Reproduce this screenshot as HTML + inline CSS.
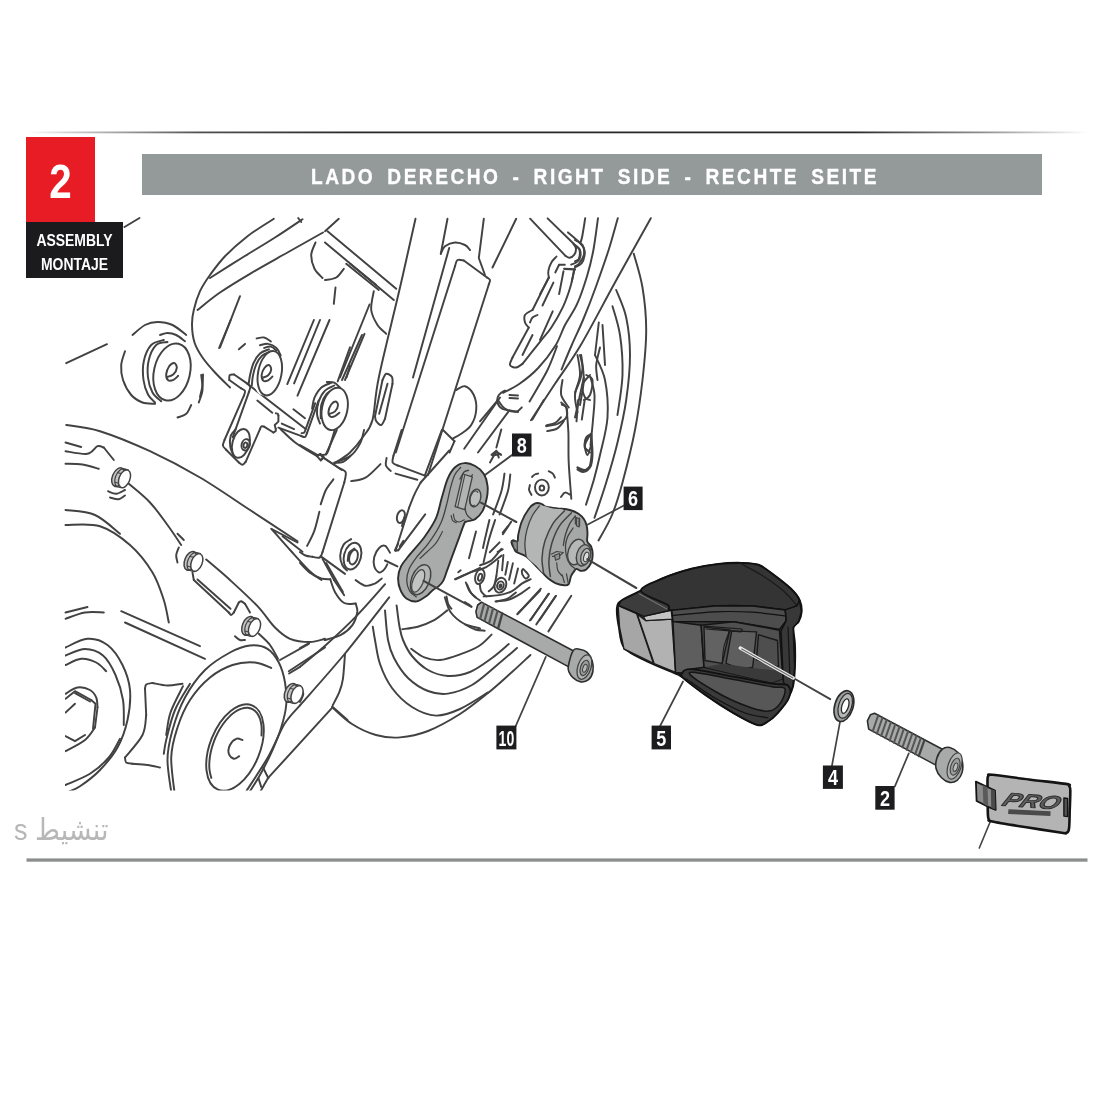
<!DOCTYPE html>
<html lang="es">
<head>
<meta charset="utf-8">
<title>Assembly 2 - Lado derecho</title>
<style>
html,body{margin:0;padding:0;background:#fff;}
body{width:1100px;height:1100px;position:relative;overflow:hidden;font-family:"Liberation Sans","DejaVu Sans",sans-serif;}
.red{position:absolute;left:26px;top:137px;width:69px;height:85px;background:#e81c24;color:#fff;font-weight:bold;font-size:47.5px;line-height:85px;text-align:center;}
.red span{display:block;transform:scaleX(.85);position:relative;top:2px;}
.blk{position:absolute;left:26px;top:222px;width:97px;height:56px;background:#1b1b1d;color:#fff;font-weight:bold;font-size:17px;line-height:24px;text-align:center;padding-top:7px;box-sizing:border-box;}
.blk span{display:block;transform:scaleX(.82);}
.bar{position:absolute;left:142px;top:154px;width:900px;height:41px;background:#949999;color:#fff;font-weight:bold;font-size:22.5px;letter-spacing:2.9px;line-height:46px;white-space:nowrap;}
.bar span{position:absolute;left:169px;top:0;transform:scaleX(.851);transform-origin:0 50%;word-spacing:5.2px;-webkit-text-stroke:.35px #fff;}
.ar{position:absolute;left:14px;top:812px;transform:scaleX(.9);transform-origin:0 0;font-family:"Liberation Sans","DejaVu Sans",sans-serif;font-size:30px;color:#b7b7b7;white-space:nowrap;direction:ltr;}
svg{position:absolute;left:0;top:0;filter:blur(.5px);}
svg text{font-family:"Liberation Sans",sans-serif;font-weight:bold;}
</style>
</head>
<body>
<svg width="1100" height="1100" viewBox="0 0 1100 1100">
<defs><linearGradient id="tl" x1="0" x2="1" y1="0" y2="0"><stop offset="0" stop-color="#444" stop-opacity="0"/><stop offset=".04" stop-color="#444" stop-opacity=".25"/><stop offset=".16" stop-color="#333" stop-opacity=".85"/><stop offset=".3" stop-color="#2a2a2a" stop-opacity="1"/><stop offset=".78" stop-color="#2a2a2a" stop-opacity="1"/><stop offset=".9" stop-color="#444" stop-opacity=".6"/><stop offset="1" stop-color="#444" stop-opacity="0"/></linearGradient><clipPath id="clip"><rect x="65" y="218" width="1030" height="572.5"/></clipPath></defs>
<rect x="27" y="131.5" width="1061" height="1.8" fill="url(#tl)"/>
<rect x="26.5" y="858.4" width="1061" height="3.3" fill="#8c8e8e"/>
<g fill="none" stroke="#424242" stroke-width="1.95" stroke-linecap="round" stroke-linejoin="round">
<path d="M124.5 227L139.5 218"/>
<path d="M66.2 363.2L107 344.2"/>
<path d="M273.8 218.8C269.4 221.7 255.6 230 247.5 236.2C239.4 242.5 231.2 249.8 225 256.2C218.8 262.7 214.2 269.2 210 275C205.8 280.8 202.7 285.4 200 291.2C197.3 297.1 195.1 304.4 193.8 310C192.4 315.6 191.9 319.6 192 325C192.1 330.4 192.8 337.1 194.5 342.5C196.2 347.9 199.1 352.5 202.5 357.5C205.9 362.5 210.4 367.5 215 372.5C219.6 377.5 227.5 385 230 387.5"/>
<path d="M302.5 219.2C297.9 222.3 285 231.1 275 237.5C265 243.9 253.3 250.8 242.5 257.5C231.7 264.2 215.4 274.6 210 278"/>
<path d="M298.2 218L301.2 222"/>
<path d="M323 232.5C317.1 235.8 299.7 245.6 287.5 252.5C275.3 259.4 261.2 267.1 250 273.8C238.8 280.4 228.8 286.5 220 292.5C211.2 298.5 201.2 307.1 197.5 310"/>
<path d="M240 296.2L220 347.5"/>
<path d="M315.5 242.5C314.8 244.6 311.4 250.6 311.2 255C311.1 259.4 312.6 264.9 314.5 268.8C316.4 272.6 321.2 276.5 322.5 278"/>
<ellipse cx="172" cy="372" rx="18" ry="29" transform="rotate(13 172 372)"/>
<path d="M167.5 342C165.6 342.5 159.4 342 156.2 345C153.1 348 150.1 354.6 148.8 360C147.4 365.4 147.4 372.1 148 377.5C148.6 382.9 150.3 388.5 152.5 392.5C154.7 396.5 159.8 399.8 161.2 401.2"/>
<path d="M163.8 340C161.7 340.8 154.6 341.5 151.2 345C147.9 348.5 145 355.4 143.8 361.2C142.5 367.1 142.8 374.5 143.5 380C144.2 385.5 146.1 390.8 148 394.5C149.9 398.2 153.8 401.2 155 402.5"/>
<path d="M160 335C161.2 334.7 164.8 333 167.5 333C170.2 333 173.3 333.6 176.2 335C179.2 336.4 183.5 340.2 185 341.2"/>
<path d="M132.5 335C134.6 333.3 140.8 327.2 145 325C149.2 322.8 152.9 322 157.5 322C162.1 322 167.7 322.8 172.5 325C177.3 327.2 184 333.3 186.2 335"/>
<path d="M125 351.2C124.4 353.5 121.6 360.2 121.2 365C120.9 369.8 121.3 375 123 380C124.7 385 128 391.2 131.2 395C134.5 398.8 138.5 401 142.5 402.5C146.5 404 152.9 403.5 155 403.8"/>
<path d="M201.2 375C201.5 377.5 202.9 385.4 202.5 390C202.1 394.6 199.4 400.4 198.8 402.5"/>
<path d="M191.2 405C190.4 406.5 188.5 411.7 186.2 413.8C184 415.8 179 416.9 177.5 417.5"/>
<path d="M166.8 377.2C167.9 376.8 171.8 375.8 173.5 374.2C175.2 372.7 176.6 369.6 176.8 367.8C176.9 365.9 175.5 363.2 174.2 363C173 362.8 170.6 364.4 169.2 366.2C167.9 368.1 166.4 371.9 166.2 374.2C166.1 376.6 167 379.3 168.2 380.2C169.5 381.2 171.8 380.5 173.5 379.8C175.2 379 177.5 376.4 178.2 375.8"/>
<path d="M230.7 320L219.1 348"/>
<path d="M203 374.5C202.9 376.4 203 381.7 202.5 385.5C202 389.2 200.4 395.1 200 397"/>
<path d="M313.9 320L287.3 384.1"/>
<path d="M320 320L294.1 383.4"/>
<path d="M329.5 320L297.5 395.7"/>
<path d="M350 347.3L337.7 381.4"/>
<path d="M350 365.7L346.6 377.3"/>
<path d="M229.3 380C229.4 379.2 228.9 376.1 229.7 375.2C230.5 374.3 233.4 374.7 234.1 374.5"/>
<path d="M234.1 374.5L247 383.4"/>
<path d="M229.3 380L240.9 388.2"/>
<path d="M240.9 388.2C241.6 388.6 244.5 389.7 245 390.9C245.5 392.2 244.1 394.9 243.9 395.7"/>
<path d="M243.9 395.7L224.5 440"/>
<path d="M224.5 440C224.3 440.9 222.7 443.9 222.9 445.5C223.1 447 225.4 448.9 225.9 449.5"/>
<path d="M225.9 449.5L238.9 462.5"/>
<path d="M238.9 462.5C239.5 462.9 241.4 464.9 242.5 464.8C243.7 464.7 245.2 462.3 245.7 461.8"/>
<path d="M245.7 461.8L260 429.1"/>
<path d="M260 429.1C260.2 428.6 260.7 426.8 261.4 426.4C262 426 263.6 426.6 264.1 426.6"/>
<path d="M264.1 426.6L273.4 432.5"/>
<path d="M273.4 432.5C273.8 432.3 275.3 431.8 275.7 431.1C276.1 430.5 275.7 429.2 275.7 428.8"/>
<path d="M275.7 428.8L274.7 425L278.4 421.6L278.4 415.5"/>
<path d="M278.4 415.5C278.3 415.2 278.2 414.2 277.7 413.8C277.3 413.5 276.1 413.4 275.8 413.3"/>
<path d="M247 383.4C247.6 384 249.9 385.3 250.2 386.8C250.5 388.3 249 391.4 248.8 392.3"/>
<path d="M248.8 392.3L232.7 437.3"/>
<path d="M247.7 384.1L305 428.4"/>
<path d="M257.3 400.5L272.3 412.7"/>
<path d="M293.4 409.3L305 418.2"/>
<path d="M281.8 423.6L294.1 429.1"/>
<path d="M278.4 427.7L300.9 435.9"/>
<path d="M300.9 435.9C301.6 436.1 304 437.5 305 437C306 436.5 306.7 433.8 307 433.2"/>
<path d="M307 433.2L318.6 400.5"/>
<path d="M301.6 433.2C302 433.1 303.6 433.2 304.3 432.5C305 431.8 305.5 429.7 305.7 429.1"/>
<path d="M305.7 429.1L315.2 403.2"/>
<ellipse cx="240.9" cy="443.4" rx="8.5" ry="14.7" transform="rotate(15 240.9 443.4)"/>
<ellipse cx="245.7" cy="444.8" rx="4.1" ry="5.7" transform="rotate(15 245.7 444.8)"/>
<ellipse cx="245.4" cy="445.2" rx="1.9" ry="2.7" transform="rotate(15 245.4 445.2)"/>
<path d="M235.7 429.1C234.9 430.2 231.6 433 230.7 435.9C229.8 438.9 229.7 443.4 230.3 446.8C230.8 450.2 233.5 454.8 234.1 456.4"/>
<path d="M280.5 429.1C283 431.4 289.3 438.2 295.5 442.7C301.6 447.3 313.6 454.1 317.3 456.4"/>
<path d="M317.3 456.4L320 454.3L323.4 457.7L320.7 460.5L317.3 456.4"/>
<path d="M323.4 457.7L341.8 470"/>
<path d="M335 429.1C334.3 431.4 332.3 438.6 330.9 442.7C329.5 446.8 328.5 451.6 326.8 453.6C325.1 455.7 321.7 454.8 320.7 455"/>
<path d="M350 456.4C348.9 457.3 345.7 460.7 343.2 461.8C340.7 462.9 336.4 462.7 335 462.9"/>
<ellipse fill="#fff" stroke="none" cx="266.1" cy="373.9" rx="11.5" ry="21.8" transform="rotate(11 266.1 373.9)"/>
<path d="M268.9 349.3C267.4 350 262.5 351.3 260 353.4C257.5 355.6 255.5 358.8 253.9 362.3C252.2 365.8 251 371 250.2 374.5C249.3 378.1 249 381.9 248.8 383.4"/>
<path d="M270.2 351.6C268.9 352.3 264.4 353.6 262 355.7C259.7 357.8 257.7 361 256.2 364.3C254.7 367.7 253.6 372.4 252.9 375.9C252.2 379.4 252 383.9 251.8 385.5"/>
<path d="M260 345.2C261.4 345 265.5 343.4 268.2 343.9C270.9 344.3 274.3 346 276.4 348C278.5 349.9 280 354.2 280.7 355.5"/>
<path d="M256.6 338.4C257.8 338.3 261.7 336.9 264.1 337.5C266.5 338 269.8 340.9 270.9 341.5"/>
<path d="M264.1 348C265.2 347.7 268.9 346.1 270.9 346.6C273 347 275.5 350 276.4 350.7"/>
<path d="M238.9 349.3L245 343.9"/>
<ellipse fill="#fff" cx="269.8" cy="373.2" rx="11.7" ry="22.5" transform="rotate(11 269.8 373.2)"/>
<path d="M262 378C263.1 377.5 266.7 376.7 268.2 375.2C269.7 373.8 271.1 371.1 271.2 369.4C271.3 367.7 270 365.2 268.9 365C267.7 364.8 265.6 366.3 264.4 368C263.2 369.7 261.8 373.1 261.6 375.2C261.5 377.3 262.3 379.8 263.4 380.7C264.5 381.5 266.7 381 268.2 380.3C269.7 379.6 271.8 377.2 272.5 376.6"/>
<ellipse fill="#fff" stroke="none" cx="330.2" cy="410" rx="12.3" ry="20.5" transform="rotate(12 330.2 410)"/>
<path d="M331.6 382.7C329.9 383.5 324.2 385 321.4 387.5C318.5 390 316.1 394.2 314.5 397.7C313 401.3 312.5 406.8 312.1 408.6"/>
<path d="M334.3 385.5C332.7 386.4 327.4 388.2 324.8 390.9C322.2 393.6 319.9 398 318.6 401.8C317.3 405.7 316.8 410.5 317 414.1C317.2 417.7 319.5 422 320 423.6"/>
<path d="M326.8 382C328.1 382.2 332 381.7 334.3 382.7C336.6 383.8 339.4 387.3 340.5 388.2"/>
<path d="M336.4 388.2C334.8 389.1 329.3 390.9 326.8 393.6C324.3 396.4 322.4 400.5 321.4 404.5C320.3 408.6 320.8 415.9 320.7 418.2"/>
<ellipse fill="#fff" cx="334.7" cy="408.9" rx="12.7" ry="21.5" transform="rotate(12 334.7 408.9)"/>
<path d="M328.9 414.1C329.9 413.6 333.5 412.8 335 411.4C336.5 409.9 337.9 406.9 338 405.2C338.1 403.6 336.8 401.7 335.7 401.5C334.5 401.4 332.4 402.9 331.2 404.5C330 406.2 328.6 409.6 328.5 411.6C328.3 413.6 329.1 415.8 330.2 416.5C331.3 417.3 333.5 416.8 335 416.1C336.5 415.5 338.6 413.3 339.4 412.7"/>
<path d="M338.8 218.8L325 231.2"/>
<path d="M327.5 231.2L396.2 288.8"/>
<path d="M325 242.5L393.8 300"/>
<path d="M346.2 263.8L378.8 290"/>
<path d="M350 263.8L376.2 285"/>
<path d="M325 280C326.9 279.6 333.1 279.4 336.2 277.5C339.4 275.6 342.5 270.2 343.8 268.8"/>
<path d="M335.5 287.5L333.8 303.8"/>
<path d="M373.8 291.2C373.3 294.4 370.6 304.4 371.2 310C371.9 315.6 375 321 377.5 325C380 329 384.8 332.3 386.2 333.8"/>
<path d="M369.5 304.5L340 377.5"/>
<path d="M364.5 333.8L345 380"/>
<path d="M362 335L342 380"/>
<path d="M415.5 218.8C412.9 230.2 406.1 261 400 287.5C393.9 314 383.3 355.4 378.8 377.5C374.2 399.6 375.2 410 372.5 420C369.8 430 366.2 432.1 362.5 437.5C358.8 442.9 354.6 448.2 350 452.5C345.4 456.8 337.5 461.2 335 463"/>
<path d="M382.5 380C383.1 379 384.7 374.2 386.2 373.8C387.8 373.2 391 375.3 392 377C393 378.7 392.4 382.6 392.5 383.8"/>
<path d="M392.5 383.8L385 418.8"/>
<path d="M385 418.8C384.4 419.8 382.7 424.6 381.2 425C379.8 425.4 377.3 422.7 376.2 421.2C375.2 419.8 375.2 417.1 375 416.2"/>
<path d="M375 416.2L382.5 380"/>
<path d="M387.5 383.8L379.2 413.8"/>
<path d="M447.5 218.8L440.8 253.8"/>
<path d="M440.8 253.8C441.5 252.5 442.6 248.1 445 246.2C447.4 244.4 451.7 242.7 455 242.5C458.3 242.3 462.5 243.8 465 245C467.5 246.2 469.2 249.2 470 250"/>
<path d="M449.2 248L413 377.5"/>
<path d="M455 266.2C455.4 265.2 456 261 457.5 260C459 259 462.7 260.4 463.8 260.5"/>
<path d="M463.8 260.5L487 277.5"/>
<path d="M487 277.5C487.5 277.9 489.7 278.8 490 280C490.3 281.2 489 283.8 488.8 284.5"/>
<path d="M488.8 284.5L428 475"/>
<path d="M455 266.2L395.8 452.5"/>
<path d="M443 430L454.5 441.2"/>
<path d="M454.5 441.2L449.5 452.5"/>
<path d="M483.8 218.8L478.8 258L485 275"/>
<path d="M516.2 218.8L492.5 267.5"/>
<path d="M456.2 390C457.7 389.4 462.1 385.4 465 386.2C467.9 387.1 471.9 391 473.8 395C475.6 399 476.7 405 476.2 410C475.8 415 473.8 421 471.2 425C468.8 429 464.4 431.5 461.2 433.8C458.1 436 454 437.9 452.5 438.8"/>
<path d="M548.8 277.5L532.5 310"/>
<path d="M532.5 310C531.2 310.8 526.2 312.9 525 315C523.8 317.1 524.4 320.4 525 322.5C525.6 324.6 528.1 326.7 528.8 327.5"/>
<path d="M528.8 327.5L512.5 357.5"/>
<path d="M512.5 357.5C512.1 358.8 509.4 363.3 510 365C510.6 366.7 514.2 367.7 516.2 367.5C518.3 367.3 521.5 364.4 522.5 363.8"/>
<path d="M530 322.5C530.4 321.7 531.2 318.8 532.5 317.5C533.8 316.2 536.7 315.4 537.5 315"/>
<path d="M532.5 335L522.5 355"/>
<path d="M505 390.5C504 391.2 500 393 498.8 395C497.5 397 496.9 400.2 497.5 402.5C498.1 404.8 499.1 407.2 502.5 408.8C505.9 410.3 515.4 411.5 518 412"/>
<path d="M509.5 395L518 395.5"/>
<path d="M509.5 398L518 398.5"/>
<path d="M500 397.5L464.2 448.8"/>
<path d="M508.8 411.2L478 452.5"/>
<path d="M512 455L485 475"/>
<path d="M490 462.5L496.2 451.2L501.2 455"/>
<path d="M492.5 455.5L500.5 454"/>
<path d="M577.5 355C577.9 358.3 580.4 368.3 580 375C579.6 381.7 575.4 388.8 575 395C574.6 401.2 577.1 409.6 577.5 412.5"/>
<path d="M581.2 355C581.7 359.2 584 371.7 583.8 380C583.5 388.3 580.6 400.8 580 405"/>
<path d="M590 375C588.8 376.7 583.3 381.2 582.5 385C581.7 388.8 583.8 395 585 397.5C586.2 400 589.2 399.6 590 400"/>
<path d="M600 347.5C599.4 350.4 596.7 359.6 596.2 365C595.8 370.4 597.3 377.5 597.5 380"/>
<path d="M561.2 402.5C562.1 403.3 565.4 405 566.2 407.5C567.1 410 567.7 414.8 566.2 417.5C564.8 420.2 560.8 422.3 557.5 423.8C554.2 425.2 548.1 425.8 546.2 426.2"/>
<path d="M562.5 380C562.3 382.5 560.2 390.4 561.2 395C562.3 399.6 567.5 405.4 568.8 407.5"/>
<path d="M590 435C589.2 436.7 585.4 441.7 585 445C584.6 448.3 586.5 455 587.5 455C588.5 455 590.6 446.7 591.2 445"/>
<path d="M577.5 467.5C578.8 467.9 582.7 470.4 585 470C587.3 469.6 590.2 465.8 591.2 465"/>
<path d="M585.2 218.2C584.8 221 583.2 231 582.5 235C581.8 239 581 240.8 580.8 242"/>
<path d="M574.2 269.2C573.6 272.1 572.4 280.2 570.5 286.5C568.6 292.8 566.2 300 563 306.8C559.8 313.5 555.3 321.4 551.5 327.2C547.7 333.1 544.8 335.7 540 341.8C535.2 347.8 525.4 360.1 522.5 363.8"/>
<path d="M598 218.2C597.2 223.5 595.3 239.8 593.5 249.5C591.7 259.2 589.8 267.1 587 276.2C584.2 285.4 580.7 296.1 577 304.2C573.3 312.4 568.6 318.1 565 325C561.4 331.9 560 338.3 555.5 345.5C551 352.7 544.3 361.6 538.2 368C532.2 374.4 525.1 379.9 519.2 384C513.4 388.1 505.9 391.3 503.2 392.8"/>
<path d="M557 346.2C555.3 350.4 551.6 361.8 547 371C542.4 380.2 532.4 396.4 529.5 401.5"/>
<path d="M617.8 218.2C616.2 223.5 612.4 238.1 608.8 249.5C605.1 260.9 600.2 274.8 596 286.5C591.8 298.2 587.3 309.8 583.2 319.5C579.2 329.2 575.4 336.7 571.8 345C568.1 353.3 563.2 365.4 561.5 369.5"/>
<path d="M650.8 218.2C644.8 229 626.7 261.4 615 282.5C603.3 303.6 590.8 328.1 580.8 345C570.8 361.9 563.3 371.2 555 383.8C546.7 396.3 535 414.2 531 420.2"/>
<path d="M633.8 253.8C635.2 259.4 640.4 274.8 642.5 287.5C644.6 300.2 646.2 314.6 646.2 330C646.2 345.4 644.4 363.3 642.5 380C640.6 396.7 638.3 412.9 635 430C631.7 447.1 626.3 468.3 622.5 482.5C618.7 496.7 616 505.3 612 515C608 524.7 600.8 536.2 598.5 540.5"/>
<path d="M616.2 290C617.9 294.6 624 306.7 626.2 317.5C628.5 328.3 630 341.2 630 355C630 368.8 628.3 385.4 626.2 400C624.2 414.6 620.8 428.8 617.5 442.5C614.2 456.2 610.1 470 606.2 482.5C602.4 495 596.5 511.9 594.5 517.8"/>
<path d="M612.5 306.2C613.8 311 618.3 323.5 620 335C621.7 346.5 622.9 361.7 622.5 375C622.1 388.3 618.3 408.3 617.5 415"/>
<path d="M575 240C576.2 240.8 581 242.5 582.5 245C584 247.5 584.4 251.9 583.8 255C583.1 258.1 580.2 261.9 578.8 263.8C577.3 265.6 575.6 265.8 575 266.2"/>
<path d="M575 245C575.8 245.8 578.9 247.7 579.5 250C580.1 252.3 579.5 256.9 578.8 258.8C578 260.6 575.6 260.8 575 261.2"/>
<path d="M598.8 322.5L595 355"/>
<path d="M602.5 325L605 365"/>
<path d="M595 355C596.7 359.2 602.9 369.6 605 380C607.1 390.4 608.3 405 607.5 417.5C606.7 430 602.3 444.6 600 455C597.7 465.4 596.1 471.7 593.8 480C591.4 488.3 587.3 500.6 586 504.8"/>
<path d="M580 355C580.4 357.1 582.5 363.3 582.5 367.5C582.5 371.7 581.2 375.8 580 380C578.8 384.2 575.8 390.4 575 392.5"/>
<path d="M586.2 375C587.3 375.8 591.9 376.7 592.5 380C593.1 383.3 591.5 391.7 590 395C588.5 398.3 584.8 399.2 583.8 400"/>
<path d="M583.8 377.5C583.1 380.4 581.5 388.3 580 395C578.5 401.7 575.8 413.8 575 417.5"/>
<path d="M591.2 433.8C590.4 434.4 587.3 435.2 586.2 437.5C585.2 439.8 584.4 445 585 447.5C585.6 450 589.2 451.7 590 452.5"/>
<path d="M591.2 433.8C591.5 437.3 592.7 449.4 592.5 455C592.3 460.6 591.7 464.9 590 467.5C588.3 470.1 584.6 470.5 582.5 470.5C580.4 470.5 578.3 468 577.5 467.5"/>
<path d="M590.5 377.5C591.2 380.4 594.1 387.9 594.5 395C594.9 402.1 593.7 411.7 593 420C592.3 428.3 590.9 440.8 590.5 445"/>
<path d="M66.2 425C71.9 426 86 426.9 100 431.2C114 435.6 133.3 443.5 150 451.2C166.7 459 183.3 467.7 200 477.5C216.7 487.3 233.8 499.4 250 510C266.2 520.6 289.6 536 297.5 541.2"/>
<path d="M65.5 442.5L81.2 447"/>
<path d="M65.5 451.2C69.2 451.7 82.2 454.6 87.5 453.8C92.8 452.9 94.8 447.3 97.5 446.2C100.2 445.2 102.7 447.3 103.8 447.5"/>
<path d="M103.8 447.5L113.8 460"/>
<path d="M65.5 463.8C68.3 463.9 77 463.7 82.5 464.5C88 465.3 96 468 98.8 468.8"/>
<path d="M108 491.2C109.4 491.7 113.4 494 116.2 493.8C119.1 493.5 123.5 490.6 125 490"/>
<path d="M110 497.5C111.5 497.8 116.2 499.6 118.8 499.2C121.2 498.9 124 496.1 125 495.5"/>
<path d="M128.8 483.8C132.3 486.9 143.5 495.6 150 502.5C156.5 509.4 162.3 517.9 167.5 525C172.7 532.1 179 541.7 181.2 545"/>
<path d="M177.5 533.8L183.8 540"/>
<path d="M178.8 547.5C178.3 548.8 176.5 552.5 176.2 555C176 557.5 177.3 561.2 177.5 562.5"/>
<path d="M206.2 559.5C210.2 562.9 221.5 572.2 230 580C238.5 587.8 250 598.3 257.5 606.2C265 614.2 269.6 622.1 275 627.5C280.4 632.9 284.2 636.3 290 638.8C295.8 641.2 304.2 642 310 642C315.8 642 322.5 639.3 325 638.8"/>
<path d="M192.5 572.5L193.8 580"/>
<path d="M193.8 580L228.8 612.5"/>
<path d="M197.5 579.5L230.5 608.8"/>
<path d="M228.8 612.5C229.2 612.9 230.4 615 231.2 615C232.1 615 233.3 612.9 233.8 612.5"/>
<path d="M233.8 612.5L238.8 602.5"/>
<path d="M238.8 602.5C239.2 602.3 240.2 601 241.2 601.2C242.3 601.5 244.4 603.3 245 603.8"/>
<path d="M245 603.8L250 612.5"/>
<path d="M235 636.2C235.8 636.9 238.3 639.4 240 640C241.7 640.6 244.2 640 245 640"/>
<path d="M65.5 510C70.4 510.8 85.9 511 95 515C104.1 519 115.8 530.6 120 533.8"/>
<path d="M65.5 525C71.2 525.2 89.2 522.9 100 526.2C110.8 529.6 121.2 537.3 130 545C138.8 552.7 146.9 563.3 152.5 572.5C158.1 581.7 161 591.7 163.8 600C166.5 608.3 167.9 618.8 168.8 622.5"/>
<path d="M65.5 612.5L87.5 607"/>
<path d="M65.5 618.8C68.8 617.7 78.6 613.5 85 612.5C91.4 611.5 100.6 612.5 103.8 612.5"/>
<path d="M121.2 611.2L200 646.2"/>
<path d="M125 622.5L205 658.8"/>
<path d="M271.2 528.8L297.5 542.5"/>
<path d="M282.5 536.2L302.5 551.8"/>
<path d="M272 529.5C275.2 533.1 284.7 544 291 551C297.3 558 304.7 566.4 309.8 571.2C314.8 576.1 319.5 578.5 321.5 580"/>
<path d="M280 660L308.8 643.8"/>
<path d="M288.8 671.2L325 647.5"/>
<g clip-path="url(#clip)">
<path d="M65.5 647.5C69.2 646 80.5 639.2 87.5 638.8C94.5 638.3 101.7 640.6 107.5 645C113.3 649.4 118.8 657.5 122.5 665C126.2 672.5 129.2 680.8 130 690C130.8 699.2 129.6 710.4 127.5 720C125.4 729.6 122.1 739.2 117.5 747.5C112.9 755.8 106.2 763.5 100 770C93.8 776.5 85.8 782.4 80 786.2C74.2 790.1 67.9 791.9 65.5 793"/>
<path d="M65.5 655.5C68.8 654.4 78.8 649 85 649C91.2 649 97.9 651.2 103 655.5C108.1 659.8 112.2 667.6 115.5 675C118.8 682.4 121.6 691.7 123 700C124.4 708.3 123.6 720.8 123.8 725"/>
<path d="M120 738.8C118.1 741.9 113.8 751.7 108.8 757.5C103.8 763.3 97.2 769.2 90 773.8C82.8 778.3 69.6 783.1 65.5 785"/>
<path d="M65.5 665C68.1 664 76.1 659.2 81.2 658.8C86.4 658.3 92.1 660.4 96.2 662.5C100.4 664.6 104.6 669.8 106.2 671.2"/>
<path d="M65.5 693.8C67.5 692.7 73.4 688.1 77.5 687.5C81.6 686.9 86.9 688.3 90 690C93.1 691.7 95 694.6 96.2 697.5C97.5 700.4 97.3 705.8 97.5 707.5"/>
<path d="M97.5 707.5L95 727.5"/>
<path d="M95 727.5C93.3 729.6 89.9 736 85 740C80.1 744 68.8 749.4 65.5 751.2"/>
<path d="M65.5 698.8L75 691.2L91.2 700"/>
<path d="M75 693.2L90 701.5"/>
<path d="M91.2 700L95.5 703.8L93 728.8"/>
<path d="M65.5 712.5L75 703.8"/>
<path d="M65.5 736.2L75 741.2L85 735"/>
<path d="M145 688.8C145.2 688 145 685.5 146.2 684.5C147.5 683.5 151.5 683.2 152.5 683"/>
<path d="M152.5 683C155 683.4 162.5 685.4 167.5 685.5C172.5 685.6 180 684 182.5 683.8"/>
<path d="M145 688.8L146.2 715"/>
<path d="M146.2 715C145.6 718.3 146 727.9 142.5 735C139 742.1 127.9 753.8 125 757.5"/>
<path d="M125 757.5C125.2 758.3 125 761.5 126.2 762.5C127.5 763.5 131.5 763.5 132.5 763.8"/>
<path d="M132.5 763.8C135 764 142.9 764.4 147.5 765C152.1 765.6 157.9 767.1 160 767.5"/>
<path d="M172.5 800C171.7 793.3 167.5 771.7 167.5 760C167.5 748.3 169.6 740.4 172.5 730C175.4 719.6 179.6 707.5 185 697.5C190.4 687.5 197.5 677.5 205 670C212.5 662.5 222.5 656.6 230 652.5C237.5 648.4 243.8 646.1 250 645.5C256.2 644.9 262.7 645.9 267.5 648.8C272.3 651.6 275.8 656.9 278.8 662.5C281.7 668.1 283.8 675.4 285 682.5C286.2 689.6 286.9 697.5 286.2 705C285.6 712.5 283.5 720 281.2 727.5C279 735 276 742.1 272.5 750C269 757.9 264.2 767.5 260 775C255.8 782.5 249.6 791.7 247.5 795"/>
<path d="M175.5 800C174.8 792.9 170.9 769.6 171.2 757.5C171.6 745.4 174.4 737.1 177.5 727.5C180.6 717.9 184.6 708.3 190 700C195.4 691.7 202.9 683.3 210 677.5C217.1 671.7 225 667.5 232.5 665C240 662.5 248.5 662 255 662.5C261.5 663 268.5 667.1 271.2 668"/>
<path d="M190 683.8C187.5 688.1 179 700.6 175 710C171 719.4 168.1 732.7 166.2 740C164.4 747.3 164.2 751.5 163.8 753.8"/>
<path d="M183 686.2C180.9 690.6 173.3 704.4 170.5 712.5C167.7 720.6 167 731.2 166.2 735"/>
<ellipse cx="235" cy="747.5" rx="25" ry="45.5" transform="rotate(22 235 747.5)"/>
<path d="M211.3 777.9C211 776.7 209.9 773.2 209.6 770.5C209.2 767.8 209.2 764.8 209.4 761.7C209.6 758.7 210 755.4 210.7 752.2C211.4 748.9 212.4 745.6 213.6 742.3C214.7 739.1 216.2 735.9 217.7 732.9C219.3 729.8 221.1 726.9 222.9 724.3C224.8 721.6 226.8 719.2 228.9 717.1C230.9 715 233.1 713.2 235.2 711.8C237.3 710.3 239.5 709.2 241.6 708.6C243.6 707.9 245.7 707.6 247.6 707.7C249.4 707.8 251.2 708.4 252.8 709.3C254.4 710.2 255.9 711.5 257.1 713.1C258.3 714.8 259.3 716.8 260.1 719C260.8 721.3 261.3 723.9 261.6 726.7C261.8 729.4 261.5 734.1 261.5 735.6"/>
<path d="M242.5 740C241.5 739.8 238.3 737.9 236.2 738.8C234.2 739.6 231.2 742.5 230 745C228.8 747.5 228.1 751.5 228.8 753.8C229.4 756 232 758.3 233.8 758.8C235.5 759.2 238.3 756.7 239.2 756.2"/>
<path d="M258.8 633.8C260.6 635.6 266.8 640.8 270 645C273.2 649.2 276.7 656.5 278 658.8"/>
</g>
<path d="M300 445L317.7 455.2"/>
<path d="M317.7 455.2L320.5 453.9L323.9 457.3L321.1 459.3"/>
<path d="M323.9 458L339.5 468.2"/>
<path d="M339.5 468.2C340.6 468.9 344.9 469.9 345.7 472.3C346.5 474.7 344.5 480.8 344.3 482.5"/>
<path d="M344.3 482.5L322.5 552.1"/>
<path d="M322.5 552.1C322 553 321.5 556.7 319.8 557.5C318.1 558.3 313.5 556.9 312.3 556.8"/>
<path d="M312.3 556.8C311.1 556.6 307.5 556.3 305.5 555.5C303.4 554.7 300.9 552.6 300 552.1"/>
<path d="M333.4 479.4C332.2 481.1 328 485.8 325.9 490C323.8 494.2 321.6 501.9 320.7 504.3"/>
<path d="M319.4 511.8C318.5 515 316.4 525.2 314.3 530.9C312.3 536.6 308.3 543.4 307.1 545.9"/>
<path d="M320.5 556.1L345 573.9"/>
<path d="M322.5 558.9L334.1 580"/>
<path d="M364.1 430C363.4 432.3 362.3 439.3 360 443.6C357.7 448 354.8 452.7 350.5 455.9C346.1 459.1 336.8 461.6 334.1 462.7"/>
<path d="M336.8 430L325.9 454.5"/>
<path d="M351.1 481.1C353.5 480.6 360.6 480.6 365.5 477.7C370.3 474.9 378 466.4 380.5 464.1"/>
<path d="M386.6 458C386.5 459.2 385.2 463.3 385.9 465.5C386.6 467.6 389.9 470 390.7 470.9"/>
<path d="M401.6 430L393.4 455.9"/>
<path d="M393.4 455.9C393.3 457 391.9 461.1 392.7 462.7C393.5 464.4 397.3 465.2 398.2 465.7"/>
<path d="M398.2 465.7L424.8 475.7"/>
<path d="M424.8 475.7L441.8 430"/>
<path d="M395.5 473.6L417.3 479.8"/>
<path d="M449.3 450.5L420.7 482.5"/>
<path d="M420.7 482.5C419.7 484.4 416.5 489.9 414.6 494.1C412.6 498.3 410 505.5 409.1 507.7"/>
<path d="M409.1 507.7L395.5 550.7"/>
<path d="M425.2 514.3L398.2 550.3"/>
<path d="M395.5 550.7L398.2 550.3"/>
<ellipse cx="400.9" cy="516.6" rx="3.8" ry="6.5" transform="rotate(15 400.9 516.6)"/>
<path d="M404.3 517.3L402 526.1"/>
<ellipse cx="352.5" cy="556.1" rx="8.5" ry="13.6" transform="rotate(15 352.5 556.1)"/>
<ellipse cx="353.5" cy="557.1" rx="4.1" ry="7.5" transform="rotate(15 353.5 557.1)"/>
<path d="M351.1 539.1C349.9 540 345.5 541.8 343.6 544.6C341.8 547.3 340.5 552.1 340.2 555.5C340 558.9 341.1 562.5 342.3 565C343.4 567.5 346.3 569.6 347 570.5"/>
<path d="M354.5 548.6C353.6 549.3 350.2 550.7 349.1 552.7C348 554.8 348 559.6 347.7 560.9"/>
<path d="M390 552.7C389.2 551.6 387 546.7 385.2 545.9C383.4 545.1 380.9 546.1 379.1 548C377.3 549.8 375.1 553.8 374.3 556.8C373.5 559.9 373.5 563.8 374.3 566.4C375.1 569 377.4 572.1 379.1 572.5C380.8 573 383.2 570.5 384.5 569.1C385.9 567.7 386.8 565.1 387.3 564.3"/>
<path d="M334 579.9L344.2 595.3"/>
<path d="M326.2 562.9L342.9 592"/>
<path d="M300 562.9C301.6 564.5 306.3 570.1 309.8 572.7C313.4 575.3 317.9 577.4 321.3 578.5C324.7 579.5 328.8 579.1 330.3 579.3"/>
<path d="M330.3 579.3C331.1 581.5 332.9 588.4 335.2 592.4C337.5 596.3 340.8 601.1 344.2 603C347.6 604.9 353.7 603.4 355.6 603.5"/>
<path d="M355.6 603.5C355.9 604.9 357.8 608.4 357.3 612C356.7 615.6 355.1 621.3 352.4 625.1C349.6 628.9 345.5 632.4 340.9 634.9C336.3 637.4 327.3 639.3 324.5 640.1"/>
<path d="M355.6 580.1C357.3 581 362.2 585.3 365.5 585.8C368.7 586.4 372.5 584.6 375.3 583.4C378 582.1 380.7 579.3 381.8 578.5"/>
<path d="M300 648L309 643.1"/>
<path d="M300 666.8C304.4 663.1 316.9 653 326.2 644.7C335.5 636.4 345.8 627 355.6 616.9C365.5 606.8 380.2 589.6 385.1 584.2"/>
<path d="M300 705.3C307.4 696.8 329.3 672.5 344.2 654.5C359 636.5 381.7 606.8 389.2 597.3"/>
<path d="M332.7 705.3C333.8 703.1 337.6 696.5 339.3 692.2C341 687.8 341.9 685.4 342.9 679.1C343.8 672.8 344.6 658.6 345 654.5"/>
<path d="M332.7 706.9L347.5 720"/>
<path d="M300 687.3C300.5 688.4 303.3 691.4 303.3 693.8C303.3 696.3 300.5 700.6 300 702"/>
<path d="M402.3 629.2C404.9 628.8 412.5 628.2 417.8 626.7C423.1 625.2 429.3 622.9 434.2 620.2C439.1 617.5 445.1 612 447.3 610.4"/>
<path d="M444.8 597.3C445.8 599.7 447.4 607.6 450.5 612C453.7 616.4 458.7 620.7 463.6 623.5C468.5 626.2 477.3 627.5 480 628.4"/>
<path stroke-width="2" d="M446.5 596.5C446.7 597.7 447.3 601.8 448.1 603.8C448.9 605.9 450.8 607.9 451.4 608.7"/>
<path d="M455.5 579.3L480 567.8"/>
<path d="M466.9 584.2C467.7 585.8 469.6 591.3 471.8 594C474 596.7 478.6 599.5 480 600.5"/>
<path d="M394.9 550.1L398.2 543.6"/>
<path d="M399.8 546.5L403.4 540.8"/>
<path d="M332 707C335.3 709.8 344.7 719.3 352 724C359.3 728.7 368 732.8 376 735C384 737.2 391.3 738.1 400 737.4C408.7 736.7 418 734.9 428 731C438 727.1 450 720.3 460 714C470 707.7 479.3 700 488 693C496.7 686 504.9 678.3 512 672C519.1 665.7 527.3 657.8 530.4 655"/>
<path d="M372.8 626.8C373.2 629 373.8 633.8 375 640C376.2 646.2 377.2 656 380 664C382.8 672 386.7 680.8 392 688C397.3 695.2 404.7 702.4 412 707C419.3 711.6 428 715.3 436 715.6C444 715.9 451.3 712.9 460 709C468.7 705.1 483.3 695.2 488 692.4"/>
<path d="M385 610.4C385.5 615.3 386.5 632.1 388 640C389.5 647.9 390.7 651.7 394 658C397.3 664.3 402.3 672.5 408 678C413.7 683.5 421.3 688.4 428 691C434.7 693.6 440.7 694.6 448 693.6C455.3 692.6 464 689.6 472 685C480 680.4 488.5 672.2 496 666C503.5 659.8 513.5 651 517 648"/>
<path d="M396.6 605.4C397.1 608.8 398.3 620.2 399.4 626C400.5 631.8 400.9 635 403 640C405.1 645 407.8 651 412 656C416.2 661 422 666.7 428 670C434 673.3 441 675.7 448 676C455 676.3 462.7 675 470 672C477.3 669 485.5 662.7 492 658C498.5 653.3 506 646.3 508.8 644"/>
<path d="M411.2 648.8C413.4 650.2 419.6 655.5 424.4 657.4C429.2 659.3 434.1 660.5 440 660C445.9 659.5 453.5 656.7 460 654.4C466.5 652.1 473.7 649.3 479 646C484.3 642.7 489.5 636.5 491.6 634.6"/>
<g clip-path="url(#clip)">
<path d="M300 666.9L289.1 673.5"/>
<path d="M300 705.3C297.5 708.4 290 715.1 284.7 723.6C279.5 732.2 274.7 745.2 268.4 756.4C262 767.6 250.2 785.1 246.5 790.9"/>
<path d="M331.6 708.4L267.9 778.2L260.7 790.9"/>
<path d="M262.9 767.3L268.4 778.2"/>
<path d="M258.5 778.2L261.2 786.9"/>
</g>
<path d="M566.7 409.8C567 413.6 568 424 568.4 432.7C568.7 441.5 568.2 451.2 568.7 462.2C569.2 473.2 570.9 492.6 571.3 498.7"/>
<path d="M561.8 404.6C562.6 405 565.5 405.9 566.4 407.4C567.3 408.8 566.9 412.1 567.1 413.1"/>
<path d="M561 496.9C561.7 496.1 563.6 492.8 565.1 492.5C566.5 492.1 568.9 494.2 569.7 494.6"/>
<path d="M546.3 425.4C547.8 425 552.8 424.3 555.3 422.9C557.7 421.5 560 418.1 561 417.2"/>
<path d="M547.1 431.1C548.7 430.7 554.1 430.3 556.9 428.6C559.7 427 562.6 422.5 563.8 421.3"/>
<path d="M498 400L480 421.3"/>
<path d="M501.3 429.5L496.4 447.5"/>
<path d="M491.5 454.8L496.4 450.7L498.8 457.6"/>
<path d="M498 400C499.1 401.4 501.5 406.2 504.5 408.2C507.5 410.1 513.1 411.9 516 411.8C518.9 411.6 520.8 408.1 521.7 407.4"/>
<path d="M543.8 400L532.4 419.6"/>
<ellipse cx="541.9" cy="487.5" rx="6.9" ry="7.9"/>
<ellipse cx="541.9" cy="488" rx="2.3" ry="2.6"/>
<path d="M532 476.9C532.5 476.5 533.8 475 534.8 474.5C535.8 473.9 537.5 473.8 538.1 473.6"/>
<path d="M548.7 471.2C549.4 471.6 551.8 472.5 552.8 473.6C553.9 474.7 554.6 477 554.9 477.7"/>
<path d="M529.9 485.1C529.8 485.9 528.8 488.4 529.1 490C529.4 491.6 531.1 494.1 531.5 494.9"/>
<path d="M591.3 435.2C590.5 435.6 587.5 435.6 586.4 437.6C585.3 439.7 584.3 445.3 584.7 447.5C585.1 449.6 588.1 450.2 588.8 450.7"/>
<path d="M591.3 435.2C591.3 438.3 592 448.4 591.6 454C591.2 459.6 590.2 465.7 588.8 468.7C587.4 471.7 585 471.9 583.1 472C581.2 472.1 578.3 470 577.4 469.5"/>
<path d="M578.2 400L576.5 421.3"/>
<path d="M584.7 400L581.8 419.6"/>
<path d="M504.5 473.6C504 476.6 503.2 484.8 501.3 491.6C499.4 498.5 494.5 510.7 493.1 514.5"/>
<path d="M510.3 474.5C509.9 477.3 509.6 485 507.8 491.6C506 498.3 501 510.7 499.6 514.5"/>
<path d="M511.1 521.9L502.9 534.2"/>
<path d="M480 565.3C481.9 564.5 487.9 563.1 491.5 560.4C495 557.6 499.6 550.8 501.3 548.9"/>
<path d="M499.6 542.4L489.8 552.2"/>
<path d="M476 531.5L469 558.2"/>
<path d="M489.4 520C488.6 523.2 486 534.4 484.9 539.1C483.8 543.8 483.3 546.5 483 548"/>
<path d="M495.1 520C494 523.4 490.6 533.4 488.7 540.4C486.8 547.4 484.5 558.4 483.6 562"/>
<path d="M455 579.2C457.7 578 465.7 574.2 470.9 572.2C476.1 570.2 481.1 569.8 486.2 567.1C491.3 564.3 498.9 557.5 501.5 555.6"/>
<ellipse cx="479.8" cy="576.6" rx="4.5" ry="7.6" transform="rotate(15 479.8 576.6)"/>
<ellipse cx="480.1" cy="577.3" rx="1.9" ry="3.6" transform="rotate(15 480.1 577.3)"/>
<ellipse cx="500.4" cy="585.2" rx="5.7" ry="7.6" transform="rotate(20 500.4 585.2)"/>
<ellipse cx="500.4" cy="585.5" rx="3.2" ry="4.2" transform="rotate(20 500.4 585.5)"/>
<ellipse cx="500.4" cy="585.9" rx="1" ry="1.5" transform="rotate(20 500.4 585.9)"/>
<path stroke-width="1.9" d="M498.3 560.7L496.4 576"/>
<path stroke-width="1.9" d="M503.4 555L502.1 570.3"/>
<path stroke-width="1.9" d="M507.8 562L505.3 574.7"/>
<path stroke-width="1.9" d="M512.9 563.3L509.1 579.8"/>
<path stroke-width="1.9" d="M518 568.4L514.2 583.6"/>
<path d="M521.8 570.9C522 570.6 522.6 569 523.1 569C523.6 569 524.4 570.3 525 570.9C525.6 571.5 526.3 572 526.9 572.8C527.5 573.7 529 575 528.8 576C528.6 577 526.7 578.8 525.6 578.5C524.6 578.3 523.1 576 522.5 574.7C521.8 573.5 521.9 571.5 521.8 570.9"/>
<path d="M483.6 596.4C486.2 596.2 494.2 595.9 498.9 595.1C503.6 594.2 507.8 593.2 511.6 591.3C515.5 589.4 518.6 585.7 521.8 583.6C525 581.6 529.2 579.9 530.7 579.2"/>
<path d="M496.4 601.5C498.5 601.1 505.1 600.8 509.1 599.5C513.1 598.3 517.2 595.8 520.5 593.8C523.9 591.8 528 588.5 529.5 587.5"/>
<path d="M465.8 582.4C466.5 583.8 467.9 588.7 469.6 591.3C471.3 593.8 474.9 596.6 476 597.6"/>
<path d="M479.8 583.6C480 584.9 480 589.2 481.1 591.3C482.2 593.4 485.3 595.5 486.2 596.4"/>
<path d="M488.7 591.3C489.6 590.4 492.5 588.7 493.8 586.2C495.1 583.6 495.9 577.7 496.4 576"/>
<path d="M502.7 532.7L507.8 526.4"/>
<path d="M497.6 551.8L502.7 549.3"/>
<path d="M540.9 588.7L518 613.5"/>
<path d="M548.5 593.8L530.7 620"/>
<path d="M555.5 596.4L539.6 620"/>
<path d="M458.2 572.2L460.7 570.3"/>
<ellipse fill="#c4c4c4" stroke-width="1.5" cx="118.2" cy="477.2" rx="5.8" ry="9.8" transform="rotate(22 118.2 477.2)"/>
<path stroke-width="1.2" d="M117.1 486.5C116.9 486.3 116.4 485.9 116.1 485.6C115.8 485.2 115.5 484.7 115.3 484.2C115.1 483.7 115 483.1 114.9 482.4C114.8 481.8 114.8 481.1 114.8 480.4C114.9 479.7 115 479 115.1 478.3C115.3 477.6 115.5 476.8 115.8 476.1C116.1 475.4 116.4 474.7 116.8 474C117.1 473.4 117.5 472.7 118 472.2C118.4 471.6 118.9 471.1 119.4 470.7C119.9 470.2 120.4 469.9 120.9 469.6C121.4 469.3 121.9 469.1 122.4 469C122.9 468.8 123.4 468.8 123.8 468.9C124.3 468.9 124.9 469.2 125.1 469.3"/>
<path stroke-width="1.3" d="M121.8 468.4L128.1 470"/>
<path stroke-width="1.3" d="M114.6 486L120.9 487.6"/>
<path stroke-width="1.1" d="M118 472.8L121.3 473.6"/>
<path stroke-width="1.1" d="M115 482.3L118.3 483.3"/>
<ellipse fill="#fff" stroke-width="1.5" cx="124.5" cy="478.8" rx="5.4" ry="9.3" transform="rotate(22 124.5 478.8)"/>
<ellipse fill="#c4c4c4" stroke-width="1.5" cx="190.5" cy="560.9" rx="5.8" ry="9.8" transform="rotate(22 190.5 560.9)"/>
<path stroke-width="1.2" d="M189.4 570.2C189.2 570 188.7 569.6 188.4 569.3C188.1 568.9 187.8 568.4 187.6 567.9C187.4 567.4 187.3 566.8 187.2 566.1C187.1 565.5 187.1 564.8 187.1 564.1C187.2 563.4 187.3 562.7 187.4 562C187.6 561.3 187.8 560.5 188.1 559.8C188.4 559.1 188.7 558.4 189.1 557.7C189.4 557.1 189.8 556.4 190.3 555.9C190.7 555.3 191.2 554.8 191.7 554.4C192.2 553.9 192.7 553.6 193.2 553.3C193.7 553 194.2 552.8 194.7 552.7C195.2 552.5 195.7 552.5 196.1 552.6C196.6 552.6 197.2 552.9 197.4 553"/>
<path stroke-width="1.3" d="M194.1 552.1L200.4 553.7"/>
<path stroke-width="1.3" d="M186.9 569.7L193.2 571.3"/>
<path stroke-width="1.1" d="M190.3 556.5L193.6 557.3"/>
<path stroke-width="1.1" d="M187.3 566L190.6 567"/>
<ellipse fill="#fff" stroke-width="1.5" cx="196.8" cy="562.5" rx="5.4" ry="9.3" transform="rotate(22 196.8 562.5)"/>
<ellipse fill="#c4c4c4" stroke-width="1.5" cx="248.2" cy="625.9" rx="5.8" ry="9.8" transform="rotate(22 248.2 625.9)"/>
<path stroke-width="1.2" d="M247.1 635.2C246.9 635 246.4 634.6 246.1 634.3C245.8 633.9 245.5 633.4 245.3 632.9C245.1 632.4 245 631.8 244.9 631.1C244.8 630.5 244.8 629.8 244.8 629.1C244.9 628.4 245 627.7 245.1 627C245.3 626.3 245.5 625.5 245.8 624.8C246.1 624.1 246.4 623.4 246.8 622.7C247.1 622.1 247.5 621.4 248 620.9C248.4 620.3 248.9 619.8 249.4 619.4C249.9 618.9 250.4 618.6 250.9 618.3C251.4 618 251.9 617.8 252.4 617.7C252.9 617.5 253.4 617.5 253.8 617.6C254.3 617.6 254.9 617.9 255.1 618"/>
<path stroke-width="1.3" d="M251.8 617.1L258.1 618.7"/>
<path stroke-width="1.3" d="M244.6 634.7L250.9 636.3"/>
<path stroke-width="1.1" d="M248 621.5L251.3 622.3"/>
<path stroke-width="1.1" d="M245 631L248.3 632"/>
<ellipse fill="#fff" stroke-width="1.5" cx="254.5" cy="627.5" rx="5.4" ry="9.3" transform="rotate(22 254.5 627.5)"/>
<ellipse fill="#c4c4c4" stroke-width="1.5" cx="290.7" cy="692.9" rx="5.8" ry="9.8" transform="rotate(22 290.7 692.9)"/>
<path stroke-width="1.2" d="M289.6 702.2C289.4 702 288.9 701.6 288.6 701.3C288.3 700.9 288 700.4 287.8 699.9C287.6 699.4 287.5 698.8 287.4 698.1C287.3 697.5 287.3 696.8 287.3 696.1C287.4 695.4 287.5 694.7 287.6 694C287.8 693.3 288 692.5 288.3 691.8C288.6 691.1 288.9 690.4 289.3 689.7C289.6 689.1 290 688.4 290.5 687.9C290.9 687.3 291.4 686.8 291.9 686.4C292.4 685.9 292.9 685.6 293.4 685.3C293.9 685 294.4 684.8 294.9 684.7C295.4 684.5 295.9 684.5 296.3 684.6C296.8 684.6 297.4 684.9 297.6 685"/>
<path stroke-width="1.3" d="M294.3 684.1L300.6 685.7"/>
<path stroke-width="1.3" d="M287.1 701.7L293.4 703.3"/>
<path stroke-width="1.1" d="M290.5 688.5L293.8 689.3"/>
<path stroke-width="1.1" d="M287.5 698L290.8 699"/>
<ellipse fill="#fff" stroke-width="1.5" cx="297" cy="694.5" rx="5.4" ry="9.3" transform="rotate(22 297 694.5)"/>
<path d="M547.6 218.4L573.7 243.8"/>
<path d="M530.1 218.7L565.5 255.9"/>
<path d="M573.7 243.8C574.1 244.7 576 247.1 576 248.9C576.1 250.8 575.2 253.4 574.1 254.9C573 256.4 571 257.5 569.5 257.7C568.1 257.9 566.1 256.2 565.5 255.9"/>
<path d="M568 232.4C569.7 233.8 575.5 238.6 578.2 241.3C580.8 243.9 582.8 245.8 583.9 248.3C585 250.7 585 253.4 584.5 255.9C584.1 258.5 583 261.6 581.4 263.5C579.8 265.5 576.1 266.7 575 267.4"/>
<path d="M573.7 244.5C574.7 245.2 578.3 247 579.5 248.9C580.6 250.8 580.8 253.8 580.5 255.9C580.2 258 579.1 260.2 577.5 261.6C576 263.1 572.2 264.1 571.2 264.6"/>
<path stroke-width="2.2" d="M564.2 268.9L575 269.4"/>
<path d="M559.1 264.8L564.8 264.8"/>
<path d="M556.5 256.5C555.7 257.5 552.8 259.8 551.5 262.3C550.1 264.7 548.7 268.6 548.3 271.2C547.8 273.7 548.8 276.5 548.9 277.5"/>
<path d="M548.9 277.5L540 294.1"/>
<path d="M559.1 264.8L555.3 272.5"/>
<path d="M563.5 271.2L559.1 294.1"/>
<path d="M553.4 282.6L542.5 305.5"/>
<path d="M552.7 311.3L540 339.9"/>
<path d="M574.4 269.9L571.8 281.4"/>
<path fill="#a9abab" stroke-width="1.9" stroke="#2e2e2e" d="M464.3 463.1C467.7 462.8 471.9 464.2 475.2 466C478.5 467.8 481.8 470.7 483.9 474C486 477.3 487.1 481.6 487.5 485.6C488 489.6 487.7 493.8 486.8 498C486 502.2 484.4 507.6 482.5 511.1C480.5 514.6 477.8 517.3 475.2 519.1C472.5 520.8 468.3 520.8 466.5 521.6C464.6 522.3 465.5 520.8 464.3 523.5C463.1 526.1 461.1 532.1 459.2 537.3C457.3 542.5 454.8 549.2 452.8 554.7C450.7 560.3 448.6 566.4 447 570.7C445.4 575.1 444.6 578.3 443.2 580.9C441.8 583.5 440.2 584.9 438.5 586.4C436.8 587.9 434.9 588.4 433 589.9C431.1 591.4 429.8 593.6 427.2 595.5C424.5 597.3 420.4 600.7 417 601.3C413.6 601.8 409.6 600.6 406.8 598.7C404 596.7 401.7 593.1 400.3 589.6C398.8 586.2 398 581.9 398.1 578C398.2 574.1 399.1 570.2 401 566.4C402.9 562.5 405.8 559.6 409.7 554.7C413.6 549.9 419.9 543.3 424.3 537.3C428.6 531.2 433 524.9 435.9 518.4C438.8 511.8 439.8 504.5 441.7 498C443.7 491.5 445.4 484.2 447.5 479.1C449.7 474 452 470.1 454.8 467.5C457.6 464.8 460.9 463.3 464.3 463.1Z"/>
<path stroke-width="1.3" d="M460.6 467.5C459.7 468.7 456.5 471.3 454.8 474.7C453.1 478.1 451.8 483 450.5 487.8C449.1 492.7 448.4 498 446.8 503.8C445.2 509.6 444 516.2 441 522.7C438 529.3 432.8 537.3 428.6 543.1C424.5 548.9 419.5 553.3 416.3 557.6C413 562 410.6 565.4 409 569.3C407.4 573.2 406.7 577.3 406.8 580.9C406.9 584.5 408.2 588.4 409.7 591.1C411.3 593.8 415.2 595.9 416.3 596.9"/>
<path stroke-width="1.3" d="M468.6 470.4C467.9 470.6 465.7 470.4 464.3 471.8C462.8 473.3 460.6 477.9 459.9 479.1"/>
<path stroke-width="1.3" d="M472.3 474.7C471.3 476.9 467.7 483.2 466.5 487.8C465.2 492.4 464.7 498 464.7 502.4C464.7 506.7 465.2 511.1 466.5 514C467.7 516.9 471.3 518.6 472.3 519.5"/>
<path fill="#b2b4b4" stroke-width="1.3" d="M462.8 474L472.3 476.9L464.7 509.6L455.1 506.7Z"/>
<path stroke-width="1.1" d="M464.7 475.5L457.7 507"/>
<ellipse fill="#bcbebe" stroke-width="1.4" cx="475.2" cy="498" rx="5.4" ry="9" transform="rotate(14 475.2 498)"/>
<path stroke-width="1.1" d="M474.6 505.1C474.5 505.2 473.9 505.5 473.6 505.6C473.3 505.7 472.9 505.7 472.6 505.7C472.3 505.6 472 505.5 471.7 505.3C471.4 505.1 471.2 504.8 471 504.4C470.8 504.1 470.6 503.7 470.4 503.2C470.3 502.8 470.2 502.3 470.1 501.8C470.1 501.2 470.1 500.6 470.1 500.1C470.1 499.5 470.2 498.9 470.3 498.2C470.4 497.6 470.6 497 470.8 496.4C470.9 495.9 471.2 495.3 471.4 494.8C471.7 494.2 472 493.7 472.3 493.3C472.6 492.8 472.9 492.4 473.2 492.1C473.6 491.8 473.9 491.5 474.2 491.3C474.6 491.1 474.9 491 475.3 490.9C475.6 490.9 476 490.9 476.3 491C476.6 491.1 476.9 491.3 477.1 491.5C477.4 491.7 477.7 492.3 477.8 492.4"/>
<path stroke-width="1.2" d="M453.4 514C453.6 515 453.8 518.5 454.8 519.8C455.8 521.2 457.6 522 459.2 522C460.8 522 463.4 520.2 464.3 519.8"/>
<path stroke-width="1.2" d="M451.2 515.5C451.4 516.3 451.8 519.3 452.6 520.5C453.5 521.8 455.7 522.4 456.3 522.7"/>
<path stroke-width="1.2" d="M442.5 531.5C441.4 533.4 438.5 539.7 435.9 543.1C433.4 546.5 429.8 549.3 427.2 551.8C424.5 554.4 421.1 557.3 419.9 558.4"/>
<ellipse fill="#b4b6b6" stroke-width="1.5" cx="420.6" cy="579.7" rx="9" ry="15.7" transform="rotate(22 420.6 579.7)"/>
<ellipse fill="#c2c4c4" stroke-width="1.2" cx="418.2" cy="580.9" rx="5.2" ry="11.9" transform="rotate(22 418.2 580.9)"/>
<path stroke-width="2.1" d="M481 502.7L516.3 522"/>
<path stroke-width="2.1" d="M423.5 580.9L471.5 606.8"/>
<path stroke-width="2.1" d="M385 560.5L397.4 566.4"/>
<path fill="#a6a8a8" stroke-width="1.9" stroke="#2e2e2e" d="M534.9 503.5C537.1 502.5 539.6 503.2 541.5 503.8C543.3 504.3 543.1 506 545.8 506.7C548.5 507.5 553.8 507.8 557.8 508.4C561.8 508.9 566.4 509.1 569.8 510C573.3 510.9 576.2 512.3 578.5 513.8C580.9 515.4 582.6 517.3 584 519.3C585.4 521.3 586.1 523.5 586.7 525.8C587.3 528.2 587.4 530.8 587.5 533.5C587.6 536.1 586.7 539.5 587.3 541.6C587.9 543.8 590.2 544.5 591.1 546.5C592 548.6 592.7 551.5 592.7 554.2C592.7 556.9 592.2 560.4 591.1 562.9C590 565.5 587.9 568.1 586.2 569.5C584.5 570.8 582.4 570.9 580.7 570.8C579.1 570.7 577.6 568.6 576.4 568.9C575.1 569.2 574 571.5 573.1 572.7C572.2 574 571.6 574.6 570.9 576.5C570.2 578.5 569.8 582.7 568.7 584.2C567.6 585.6 566.4 585.4 564.4 585.3C562.4 585.2 559.5 584.8 556.7 583.6C554 582.5 550.4 580 548 578.2C545.6 576.4 544.5 574.7 542.5 572.7C540.5 570.7 538.7 568.9 536 566.2C533.3 563.5 529.5 558.7 526.2 556.4C522.9 554 518.4 553.4 516.4 552C514.3 550.6 514.8 549.8 514 548.2C513.1 546.6 511.6 543.7 511.5 542.4C511.3 541.1 512.1 540.4 513.1 540.2C514.1 540 516.6 542.3 517.5 541.3C518.3 540.4 517.6 537.9 518.3 534.5C519.1 531.2 520.1 525.6 521.8 521.5C523.5 517.3 526.2 512.5 528.4 509.5C530.5 506.5 532.7 504.4 534.9 503.5Z"/>
<path fill="#b4b6b6" stroke="none" d="M539.8 506.2C543.1 504.9 548.3 507.8 552.4 508.6C556.4 509.4 564.1 508.5 564.1 511C564.2 513.5 556.1 518.6 552.9 523.6C549.7 528.7 546.9 535.3 545.2 541.1C543.4 546.9 542.6 553.3 542.3 558.5C542.1 563.8 544.7 571.5 543.6 572.7C542.6 573.9 538.9 568.5 536 565.6C533.1 562.8 528 559.5 526.2 555.8C524.4 552.1 524.9 547.7 525.1 543.3C525.3 538.8 526.1 533.6 527.3 529.1C528.5 524.5 530.3 519.8 532.4 516C534.5 512.2 536.5 507.4 539.8 506.2Z"/>
<path stroke-width="1.3" d="M539.3 506C538.1 507.6 534.2 512.1 532.2 516C530.1 519.9 528.3 524.5 527.1 529.1C525.8 533.6 525.1 538.8 524.9 543.3C524.7 547.7 525.8 553.7 526 555.8"/>
<path stroke-width="1.5" d="M564.4 510.9C562.5 513 556.1 518.6 552.9 523.6C549.7 528.7 546.8 535.3 544.9 541.1C543.1 546.9 542.2 553.2 542 558.5C541.8 563.9 543.4 570.8 543.6 573.3"/>
<path stroke-width="1.5" d="M571.5 512.7C569.5 514.9 562.7 520.7 559.5 525.8C556.2 530.9 553.6 537.5 551.8 543.3C550.1 549.1 549.1 555.2 548.9 560.7C548.6 566.3 550.1 573.9 550.4 576.5"/>
<path stroke-width="1.3" d="M575.3 516C574.4 517.3 571.5 520.5 569.8 523.6C568.2 526.7 566.5 530.9 565.5 534.5C564.4 538.2 563.6 543.6 563.3 545.5"/>
<path stroke-width="1.3" d="M573.1 528C572.2 529.5 568.9 533.8 567.6 536.7C566.4 539.6 565.6 542.2 565.5 545.5C565.3 548.7 565.8 553.3 566.5 556.4C567.3 559.5 568.4 561.9 569.8 564C571.3 566.1 574.4 568.1 575.3 568.9"/>
<ellipse fill="#b6b8b8" stroke-width="1.4" cx="576.4" cy="552" rx="8.2" ry="13.1" transform="rotate(18 576.4 552)"/>
<ellipse fill="#a2a4a4" stroke-width="1.4" cx="583.5" cy="555.3" rx="6.8" ry="10.9" transform="rotate(16 583.5 555.3)"/>
<ellipse fill="#b9bbbb" stroke-width="1.3" cx="585.6" cy="556.4" rx="4.6" ry="8.2" transform="rotate(16 585.6 556.4)"/>
<ellipse fill="#dcdcdc" stroke-width="1.1" cx="586.2" cy="556.9" rx="2.4" ry="4.9" transform="rotate(16 586.2 556.9)"/>
<path stroke-width="1.2" d="M575.3 516L575.3 523.6L579.6 525.8L579.6 518.2"/>
<path fill="#8f9191" stroke-width="1.1" d="M576.4 517.6L579.1 518.7L579.1 526.9L576.4 525.8Z"/>
<path stroke-width="1.2" d="M551.3 554.2L556.7 551.5L563.3 552.5L558.9 556.4L552.4 556.4"/>
<path fill="#8f9191" stroke-width="1.1" d="M554.5 555.3L559.5 553.6L559.8 558.5L555.6 560.2Z"/>
<path stroke-width="1.2" d="M562.2 574.9L564.4 582.5"/>
<path stroke-width="1.2" d="M566.5 573.8L568.2 583.1"/>
<path stroke-width="1.2" d="M556.7 562.9C556.9 564.2 556.9 568.4 557.8 570.5C558.7 572.7 561.5 575.1 562.2 576"/>
<path fill="#8c8e8e" stroke-width="1.2" d="M512 541.1L517.2 541.6L517.5 551.5L514 548.2Z"/>
<path stroke-width="1.7" d="M587.3 524.7L623.9 505.5"/>
<path stroke-width="2.1" d="M587.3 559.1L636.3 588"/>
<path d="M465 602.1C465.5 602.4 467.1 603.3 468.2 604C469.2 604.7 470.8 606.1 471.4 606.5"/>
<path d="M540.1 590.6L517.2 614.2"/>
<path d="M549 593.8L529.9 620.5"/>
<path d="M556 595.7L536.3 624.4"/>
<path d="M571.3 595.7L548.4 631.4"/>
<path d="M465 624.4C466.7 625.2 471.9 628.4 475.2 629.5C478.5 630.5 483.1 630.5 484.7 630.7"/>
<path d="M495.5 601.5C497.5 601 503.6 600.4 507 598.9C510.4 597.4 514.4 593.6 515.9 592.5"/>
<path stroke-width="1.7" d="M545.8 656.8L515.8 725.9"/>
<path fill="#a8aaaa" stroke-width="1.6" stroke="#2e2e2e" d="M481.5 602.1L573.2 650.8L568.3 666.6L477.1 617.4L475.9 611.6L477.7 605Z"/>
<path stroke-width="2.2" stroke="#555" d="M484.1 604L480.3 618.3"/>
<path stroke-width="2.2" stroke="#555" d="M488.5 606.3L484.7 620.5"/>
<path stroke-width="2.2" stroke="#555" d="M493 608.6L489.2 622.8"/>
<path stroke-width="2.2" stroke="#555" d="M497.5 611L493.6 625.3"/>
<path stroke-width="2.4" stroke="#444" d="M502.2 613.5L498.3 627.8"/>
<path fill="#a8aaaa" stroke-width="1.6" stroke="#2e2e2e" d="M573.2 650.6C575.1 647.7 577.2 648.9 579.5 649.2C581.9 649.5 585.1 650.3 587.2 652.4C589.3 654.4 591.3 658.1 592.3 661.3C593.2 664.5 593.5 668.4 592.9 671.5C592.3 674.5 590.5 678 588.5 679.7C586.4 681.5 583.4 682.2 580.8 681.9C578.3 681.6 575.1 679.5 573.2 677.8C571.2 676.2 569.9 674 569.1 672.1C568.3 670.2 567.7 669.9 568.3 666.4C569 662.8 571.3 653.4 573.2 650.6Z"/>
<ellipse fill="#b2b4b4" stroke-width="1.3" cx="584.4" cy="667.1" rx="6.6" ry="12.7" transform="rotate(18 584.4 667.1)"/>
<ellipse fill="#9a9c9c" stroke-width="1.2" cx="584.6" cy="667.9" rx="4.1" ry="7.9" transform="rotate(18 584.6 667.9)"/>
<ellipse fill="#b8baba" stroke-width="1" cx="584.9" cy="668.3" rx="2" ry="4.1" transform="rotate(18 584.9 668.3)"/>
<path stroke-width="1.7" d="M683 681.5L660.1 726"/>
<path fill="#3a3a3a" stroke="#141414" stroke-width="2.4" d="M622 600.4C625.9 597.5 634.2 594.5 641 590.8C647.9 587.2 654.6 582.1 663 578.4C671.4 574.8 682.4 571.3 691.6 568.9C700.9 566.5 710.1 565 718.4 564.1C726.6 563.1 734.6 563 741.3 563.1C748 563.3 753.4 563.3 758.5 565C763.5 566.8 766.4 569.7 771.8 573.6C777.2 577.6 786.3 584.5 790.9 588.9C795.5 593.4 797.8 596.5 799.5 600.4C801.3 604.2 801.6 608.3 801.4 611.8C801.3 615.3 799.9 618.8 798.5 621.4C797.2 624 793.8 623.7 793.2 627.5C792.6 631.3 794.5 637.7 794.7 644.3C795 650.9 795 660.2 794.7 667.2C794.4 674.2 793.9 681.2 792.8 686.3C791.7 691.4 790.6 693.3 788 697.7C785.5 702.2 781.2 708.9 777.5 713C773.9 717.1 769.6 720.6 766.1 722.5C762.6 724.5 762 726 756.5 724.5C751.1 722.9 741.9 717.8 733.6 713C725.4 708.2 715.5 701.9 706.9 695.8C698.3 689.8 687.5 680.5 682.1 676.7C676.7 672.9 680.2 675.5 674.5 672.9C668.7 670.4 656 665.6 647.7 661.5C639.5 657.3 629.6 653.8 624.8 648.1C620 642.4 620.4 633.8 619.1 627.1C617.8 620.4 616.7 612.5 617.2 608C617.7 603.5 618 603.2 622 600.4Z"/>
<path fill="#a6a6a6" stroke="#1c1c1c" stroke-width="1.4" d="M618.1 605.7L636.7 613.7L653.5 663.4L623.9 649L619.5 627.1Z"/>
<path fill="#b2b2b2" stroke="#1c1c1c" stroke-width="1.4" d="M637.2 614.1L645.8 620.6L671.8 619.1L675.6 672.5L654.2 663.7Z"/>
<path fill="#c4c4c4" stroke="#1c1c1c" stroke-width="1.1" d="M643.5 616.4L671 610.3L672.2 619.1L645.8 620.6Z"/>
<path fill="#3c3c3c" stroke="#141414" stroke-width="1.4" d="M621.4 600.7L641 590.8L670.3 606.5L671 610.3L643.5 616.4L636.3 613L618.7 605.3Z"/>
<path stroke-width=".8" stroke="#8a8a8a" d="M639.1 593.7L666.8 609"/>
<path fill="#343434" stroke="#111" stroke-width="1.8" d="M641 590.8C640.3 586.5 654.6 582.1 663 578.4C671.4 574.8 682.4 571.3 691.6 568.9C700.9 566.5 710.1 565 718.4 564.1C726.6 563.1 734.6 563 741.3 563.1C748 563.3 753.4 563.3 758.5 565C763.5 566.8 766.4 569.7 771.8 573.6C777.2 577.6 786.3 584.5 790.9 588.9C795.5 593.4 798.5 597.6 799.5 600.4C800.5 603.2 799.4 604.1 797 605.7C794.6 607.3 792.6 609.8 785.2 609.9C777.8 610 764.5 606.7 752.7 606.1C741 605.5 727.9 605.4 714.5 606.1C701.2 606.8 680.4 610.5 672.5 610.3C664.7 610 672.5 607.8 667.2 604.6C662 601.3 641.7 595.2 641 590.8Z"/>
<path stroke-width="1.2" stroke="#1a1a1a" d="M740.3 563.3C744 565.4 755.1 571 762.3 575.5C769.4 580.1 777.5 585.9 783.3 590.8C789 595.8 794.4 602.8 796.6 605.1"/>
<path fill="#4d4d4d" stroke="#111" stroke-width="1.5" d="M671.8 610.3L714.5 606.1L752.7 606.1L785.2 609.9L786.3 620.4L779.5 629.4L733.6 621.7L672.9 621.4Z"/>
<path stroke-width="1.2" stroke="#111" d="M672.5 615.6C679.5 615 701.2 612.4 714.5 611.8C727.9 611.2 740.9 611.5 752.7 612.2C764.6 612.9 780.1 615.4 785.6 616"/>
<path fill="#5e5e5e" stroke="#151515" stroke-width="1.5" d="M672.9 621.4L701.2 625.2L704 667.2L691.6 669.1L682.1 672.9L675.6 672.5Z"/>
<path fill="#505050" stroke="#151515" stroke-width="1.6" d="M701.2 625.2L733.6 621.7L779.5 630.1L782.9 678.6L771.8 682.8L704 667.2Z"/>
<path fill="#626262" stroke="#1a1a1a" stroke-width="1.4" d="M704 627.1L729.8 630L722.2 663.4L705 660.5Z"/>
<path fill="#5e5e5e" stroke="#1a1a1a" stroke-width="1.4" d="M731.7 630.9L756.5 631.9L752.7 667.2L741.3 669.1L726 663.4Z"/>
<path fill="#4e4e4e" stroke="#1a1a1a" stroke-width="1.4" d="M758.5 634.7L777.5 640.5L778.5 667.2L756.5 659.5Z"/>
<path fill="#3a3a3a" stroke="none" d="M705 667.2L771.8 682.8L782.9 678.6L782.3 671L752.7 668.1L722.2 663.7Z"/>
<path stroke-width="1.1" stroke="#1a1a1a" d="M729.8 630C728.9 632.7 725.4 640.6 724.1 646.2C722.8 651.8 722.5 660.5 722.2 663.4"/>
<path stroke-width="1.1" stroke="#1a1a1a" d="M704 626.1L742.2 629L741.3 631.9L706 629"/>
<path fill="#383838" stroke="#111" stroke-width="1.5" d="M785.2 609.9L797 605.7L799.5 600.4L801.4 611.8L798.5 621.4L793.2 627.5L794.7 667.2L792.8 686.3L788.2 697.7L783.3 680.9L781 630.9L786.3 620.4Z"/>
<path stroke-width="1.1" stroke="#111" d="M788 627.1L790 678.6"/>
<path fill="#3a3a3a" stroke="#111" stroke-width="1.8" d="M682.1 673.3C683.4 671.7 683 668.5 691.6 669.1C700.2 669.7 720.3 674.3 733.6 676.7C747 679.1 762.8 682.1 771.8 683.6C780.9 685.1 785.2 683.2 788 685.5C790.9 687.9 790.8 693.1 789 697.7C787.3 702.3 781.4 708.9 777.5 713C773.7 717.1 769.6 720.6 766.1 722.5C762.6 724.5 762 726 756.5 724.5C751.1 722.9 741.9 717.8 733.6 713C725.4 708.2 715.2 701.5 706.9 695.8C698.6 690.1 688.1 682.4 684 678.6C679.9 674.9 680.8 674.9 682.1 673.3Z"/>
<path fill="#575757" stroke="#151515" stroke-width="1.5" d="M689.7 672.5C692.9 670.6 720 677.2 733.6 679.6C747.3 681.9 763.3 685.2 771.8 686.7C780.3 688.2 783.4 685.8 784.8 688.6C786.2 691.3 783.1 699.3 780.4 703.1C777.8 706.8 774.5 710.6 769 711.1C763.4 711.6 756.1 709.7 747 706.3C737.9 703 724.1 696.7 714.5 691C705 685.4 686.5 674.4 689.7 672.5Z"/>
<path stroke-width="1.1" stroke="#111" d="M685.9 678.6C690.7 681.8 704.7 692 714.5 697.7C724.4 703.5 736.2 709.7 745.1 713C754 716.3 764.2 717 768 717.8"/>
<path stroke-width="2" d="M792.4 677.5L830.2 699.1"/>
<path stroke-width="3.4" stroke="#ececec" d="M740.3 648.1L793.2 677.9"/>
<path stroke-width="1.2" stroke="#6a6a6a" stroke-linecap="butt" d="M741.3 648.7L793.2 677.9"/>
<path stroke-width="1.7" d="M840.1 721.4L831.9 766"/>
<ellipse fill="#9c9e9e" stroke="#2a2a2a" stroke-width="1.6" cx="843.9" cy="706.1" rx="9.2" ry="15.9" transform="rotate(17 843.9 706.1)"/>
<ellipse fill="#b4b6b6" stroke="#2a2a2a" stroke-width="1.2" cx="845.2" cy="705.8" rx="6.5" ry="12.8" transform="rotate(17 845.2 705.8)"/>
<ellipse fill="#fff" stroke="#2a2a2a" stroke-width="1.3" cx="845.2" cy="706.1" rx="3.3" ry="7.5" transform="rotate(17 845.2 706.1)"/>
<path stroke-width="1.7" d="M908.8 753.3L894.9 786.3"/>
<path fill="#a8aaaa" stroke="#2e2e2e" stroke-width="1.6" d="M874.5 713.2L942.4 749.2L935.8 765.1L868.7 729.1L867.4 720.9L870.4 714.8Z"/>
<path stroke-width="2" stroke="#555" d="M878.2 715.3L872.7 731.3"/>
<path stroke-width="2" stroke="#555" d="M882.5 717.6L876.9 733.6"/>
<path stroke-width="2" stroke="#555" d="M886.7 719.9L881.2 735.9"/>
<path stroke-width="2" stroke="#555" d="M891 722.2L885.4 738.2"/>
<path stroke-width="2" stroke="#555" d="M895.2 724.5L889.7 740.5"/>
<path stroke-width="2" stroke="#555" d="M899.5 726.8L893.9 742.8"/>
<path stroke-width="2" stroke="#555" d="M903.7 729.1L898.2 745.1"/>
<path stroke-width="2" stroke="#555" d="M908 731.3L902.4 747.4"/>
<path stroke-width="2" stroke="#555" d="M912.3 733.6L906.7 749.7"/>
<path stroke-width="2" stroke="#555" d="M916.5 735.9L910.9 752"/>
<path stroke-width="2" stroke="#555" d="M920.8 738.2L915.2 754.3"/>
<path stroke-width="2.2" stroke="#444" d="M924.4 740.2L918.8 756.2"/>
<path fill="#a8aaaa" stroke="#2e2e2e" stroke-width="1.6" d="M942.4 749.2C944.5 747.4 947.1 747 949.7 747.5C952.3 748.1 955.8 750.1 957.9 752.5C960 754.8 961.6 758 962.3 761.5C963 764.9 962.9 769.8 962 772.9C961.1 776 959.1 778.7 957.1 780.3C955 781.9 952.3 782.8 949.7 782.4C947.1 782 943.8 780.1 941.5 777.8C939.3 775.6 936.9 772.1 936.1 768.8C935.4 765.5 935.8 761.5 936.8 758.2C937.8 754.9 940.2 751 942.4 749.2Z"/>
<ellipse fill="#b2b4b4" stroke-width="1.2" cx="954.6" cy="766" rx="6.5" ry="13.7" transform="rotate(18 954.6 766)"/>
<ellipse fill="#9a9c9c" stroke-width="1.1" cx="955.1" cy="766.7" rx="4.3" ry="8.8" transform="rotate(18 955.1 766.7)"/>
<ellipse fill="#bcbebe" stroke-width="1" cx="955.5" cy="767.2" rx="2" ry="4.3" transform="rotate(18 955.5 767.2)"/>
<path stroke-width="1.6" d="M990.2 821.8L979.3 848"/>
<path fill="#b4b4b4" stroke="#141414" stroke-width="2.6" d="M987.5 779.5C987.6 776 987.7 776.5 988.5 775.7C989.3 774.9 985.5 774.1 992.3 774.8C999 775.4 1016.8 778 1029.1 779.5C1041.4 781.1 1059.2 782.8 1065.9 783.9C1072.6 785 1068.6 785.3 1069.3 786.4C1070.1 787.5 1070.2 786.4 1070.3 790.5C1070.3 794.5 1070 804.4 1069.7 810.9C1069.5 817.4 1069.6 825.6 1068.9 829.3C1068.3 833 1067.1 832.4 1065.9 833C1064.7 833.6 1068.4 833.7 1061.8 832.7C1055.2 831.8 1038 829.1 1026.4 827.3C1014.8 825.4 998.5 822.9 992.3 821.5C986 820.2 989.6 820.5 988.9 819.4C988.1 818.3 988.1 818.7 987.9 815C987.7 811.3 987.7 803.2 987.6 797.3C987.6 791.4 987.4 783.1 987.5 779.5Z"/>
<path fill="#8a8a8a" stroke="#141414" stroke-width="1.8" d="M975.9 781.6L987.5 787L995 790.5L995.7 809.8L988.9 807.1L976.6 801Z"/>
<path fill="#5a5a5a" stroke="none" d="M982.7 785L987.5 787.3L988.2 806.5L983.4 804.1Z"/>
<path fill="#4a4a4a" stroke="none" d="M990.9 789.1L995 790.7L995.5 809.5L991.2 807.9Z"/>
<path fill="#555" stroke="#141414" stroke-width="1.4" d="M1063.9 798L1067.6 798.4L1067.6 816.6L1063.9 816.1Z"/>
<path fill="#4a4a4a" stroke="none" d="M1008.4 809.3L1050.6 811.2L1050.4 816.1L1008.1 813.9Z"/>
<text x="0" y="0" transform="translate(1001,805.5) rotate(4) skewX(-24) scale(1.36,1)" font-size="19" font-style="italic" fill="#5e5e5e" stroke="#2c2c2c" stroke-width=".9">PRO</text>
<rect x="512.0" y="433.5" width="19.5" height="23.0" fill="#1d1d1f" stroke="none"/>
<text transform="translate(521.8,452.6) scale(0.82,1)" text-anchor="middle" font-size="22" fill="#fff" stroke="none">8</text>
<rect x="623.6" y="486.6" width="19.0" height="23.5" fill="#1d1d1f" stroke="none"/>
<text transform="translate(633.1,506.2) scale(0.82,1)" text-anchor="middle" font-size="22" fill="#fff" stroke="none">6</text>
<rect x="496.4" y="725.6" width="20.0" height="23.8" fill="#1d1d1f" stroke="none"/>
<text transform="translate(506.4,745.5) scale(0.64,1)" text-anchor="middle" font-size="22" fill="#fff" stroke="none">10</text>
<rect x="651.6" y="725.6" width="19.4" height="23.8" fill="#1d1d1f" stroke="none"/>
<text transform="translate(661.3,745.5) scale(0.82,1)" text-anchor="middle" font-size="22" fill="#fff" stroke="none">5</text>
<rect x="822.9" y="765.5" width="20.0" height="23.4" fill="#1d1d1f" stroke="none"/>
<text transform="translate(832.9,785.0) scale(0.82,1)" text-anchor="middle" font-size="22" fill="#fff" stroke="none">4</text>
<rect x="875.3" y="786.0" width="19.3" height="23.7" fill="#1d1d1f" stroke="none"/>
<text transform="translate(885.0,805.8) scale(0.82,1)" text-anchor="middle" font-size="22" fill="#fff" stroke="none">2</text>
</g>
</svg>
<div class="red"><span>2</span></div>
<div class="blk"><span>ASSEMBLY</span><span>MONTAJE</span></div>
<div class="bar"><span>LADO DERECHO - RIGHT SIDE - RECHTE SEITE</span></div>
<div class="ar">s تنشيط</div>
</body>
</html>
